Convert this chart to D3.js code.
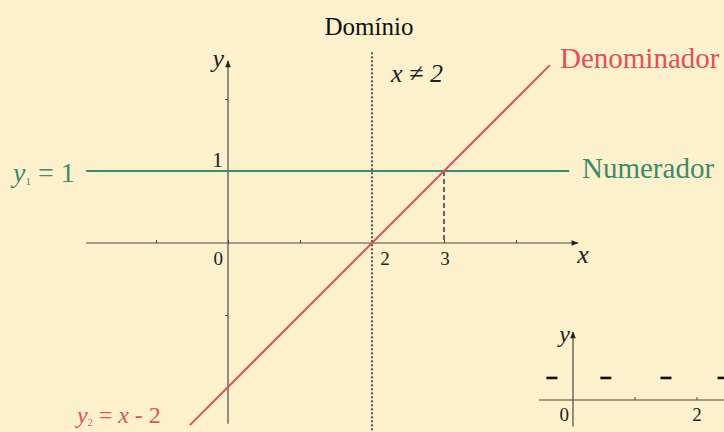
<!DOCTYPE html>
<html>
<head>
<meta charset="utf-8">
<script src="https://cdn.jsdelivr.net/npm/d3@7"></script>
<style>
  body { margin: 0; background: #fdf0cc; }
  svg, text { font-family: "Liberation Serif", "DejaVu Serif", serif; }
  svg { display: block; }
</style>
</head>
<body>
<svg id="chart" width="724" height="432"></svg>
<script>
// Main graph data
var xTicks = [-1, 0, 1, 2, 3, 4];
var yTicks = [-1, 2];
var xLabels = [
  { v: 0, t: "0" },
  { v: 2, t: "2" },
  { v: 3, t: "3" }
];
var numeratorX = [-1.97, 4.74];      // y1 = 1
var denominatorX = [-0.53, 4.47];    // y2 = x - 2
var domainX = 2;                     // x != 2
var crossX = 3;                      // y1 = y2

// Inset (sign chart) data
var insetTicks = [1, 2];
var insetLabels = [{ v: 0, t: "0" }, { v: 2, t: "2" }];
var signX = [-0.34, 0.53, 1.5, 2.42];
var signY = 0.35;

var green = "#3f8a6b", red = "#e0505c", axisCol = "#4a4a44";

function demo() {
  var svg = d3.select("#chart");

  /*** Scales ***/
  var x = d3.scaleLinear().domain([0, 1]).range([228, 300]);
  var y = d3.scaleLinear().domain([0, 1]).range([243, 171]);

  var defs = svg.append("defs");
  defs.append("marker")
    .attr("id", "arrow")
    .attr("viewBox", "0 0 10 10")
    .attr("refX", 9).attr("refY", 5)
    .attr("markerWidth", 9).attr("markerHeight", 7)
    .attr("markerUnits", "userSpaceOnUse")
    .attr("orient", "auto")
    .append("path")
    .attr("d", "M0,1 L10,5 L0,9 Z")
    .attr("fill", "#222");

  /*** Axes ***/
  var xAxis = d3.axisBottom(x).tickValues(xTicks).tickSize(-3).tickFormat("");
  var gx = svg.append("g").attr("transform", "translate(0," + y(0) + ")").call(xAxis);
  gx.select(".domain").remove();
  gx.selectAll("line").attr("stroke", axisCol);

  var yAxis = d3.axisLeft(y).tickValues(yTicks).tickSize(3).tickFormat("");
  var gy = svg.append("g").attr("transform", "translate(" + x(0) + ",0)").call(yAxis);
  gy.select(".domain").remove();
  gy.selectAll("line").attr("stroke", axisCol);

  svg.append("line")
    .attr("x1", x(-1.97)).attr("x2", x(4.86))
    .attr("y1", y(0)).attr("y2", y(0))
    .attr("stroke", axisCol).attr("stroke-width", 1.2)
    .attr("marker-end", "url(#arrow)");

  svg.append("line")
    .attr("x1", x(0)).attr("x2", x(0))
    .attr("y1", y(-2.51)).attr("y2", y(2.53))
    .attr("stroke", axisCol).attr("stroke-width", 1.2)
    .attr("marker-end", "url(#arrow)");

  /*** Domain and crossing guides ***/
  svg.append("line")
    .attr("x1", x(domainX)).attr("x2", x(domainX))
    .attr("y1", y(2.65)).attr("y2", y(-2.7))
    .attr("stroke", "#555").attr("stroke-width", 2)
    .attr("stroke-dasharray", "2,2");

  svg.append("line")
    .attr("x1", x(crossX)).attr("x2", x(crossX))
    .attr("y1", y(1)).attr("y2", y(0))
    .attr("stroke", "#444").attr("stroke-width", 1.6)
    .attr("stroke-dasharray", "5,3");

  /*** Functions ***/
  var line = d3.line().x(d => x(d[0])).y(d => y(d[1]));

  svg.append("path")
    .datum(numeratorX.map(v => [v, 1]))
    .attr("d", line)
    .attr("stroke", green).attr("stroke-width", 2).attr("fill", "none");

  svg.append("path")
    .datum(denominatorX.map(v => [v, v - 2]))
    .attr("d", line)
    .attr("stroke", red).attr("stroke-width", 2).attr("fill", "none");

  /*** Tick labels ***/
  svg.selectAll(".xl")
    .data(xLabels)
    .join("text")
    .attr("x", d => d.v === 0 ? x(d.v) - 5 : x(d.v) + (d.v === 2 ? 13 : 1))
    .attr("y", y(0) + 22)
    .attr("text-anchor", d => d.v === 0 ? "end" : "middle")
    .attr("font-size", 19)
    .attr("fill", "#222")
    .text(d => d.t);

  svg.append("text").attr("x", x(0) - 5).attr("y", y(1) - 4)
    .attr("text-anchor", "end").attr("font-size", 22).attr("fill", "#222").text("1");

  svg.append("text").attr("x", x(4.93)).attr("y", y(0) + 20)
    .attr("text-anchor", "middle").attr("font-size", 26).attr("font-style", "italic")
    .attr("fill", "#222").text("x");
  svg.append("text").attr("x", x(0) - 4).attr("y", y(2.53) + 6)
    .attr("text-anchor", "end").attr("font-size", 26).attr("font-style", "italic")
    .attr("fill", "#222").text("y");

  /*** Annotations ***/
  svg.append("text").attr("x", 369).attr("y", 35)
    .attr("text-anchor", "middle").attr("font-size", 25).attr("fill", "#111")
    .text("Domínio");
  svg.append("text").attr("x", 417).attr("y", 82)
    .attr("text-anchor", "middle").attr("font-size", 26).attr("font-style", "italic")
    .attr("fill", "#222").text("x ≠ 2");

  svg.append("text").attr("x", 560).attr("y", 68)
    .attr("font-size", 29).attr("fill", red).text("Denominador");
  svg.append("text").attr("x", 582).attr("y", 178)
    .attr("font-size", 29).attr("fill", green).text("Numerador");

  var t1 = svg.append("text").attr("x", 13).attr("y", 182)
    .attr("font-size", 28).attr("fill", green);
  t1.append("tspan").attr("font-style", "italic").text("y");
  t1.append("tspan").attr("font-size", 11).attr("dy", 3).text("1");
  t1.append("tspan").attr("dy", -3).text(" = 1");

  var t2 = svg.append("text").attr("x", 77).attr("y", 423)
    .attr("font-size", 24).attr("fill", red);
  t2.append("tspan").attr("font-style", "italic").text("y");
  t2.append("tspan").attr("font-size", 10).attr("dy", 3).text("2");
  t2.append("tspan").attr("dy", -3).text(" = ");
  t2.append("tspan").attr("font-style", "italic").text("x");
  t2.append("tspan").text(" - 2");

  /*** Inset sign chart ***/
  var ix = d3.scaleLinear().domain([0, 1]).range([573, 635]);
  var iy = d3.scaleLinear().domain([0, 1]).range([400, 337]);

  svg.append("line")
    .attr("x1", ix(-0.55)).attr("x2", 724)
    .attr("y1", iy(0)).attr("y2", iy(0))
    .attr("stroke", axisCol).attr("stroke-width", 1.2);
  svg.append("line")
    .attr("x1", ix(0)).attr("x2", ix(0))
    .attr("y1", iy(-0.42)).attr("y2", iy(1.08))
    .attr("stroke", axisCol).attr("stroke-width", 1.2)
    .attr("marker-end", "url(#arrow)");

  svg.selectAll(".it")
    .data(insetTicks)
    .join("line")
    .attr("x1", d => ix(d)).attr("x2", d => ix(d))
    .attr("y1", iy(0)).attr("y2", iy(0) - 3)
    .attr("stroke", axisCol);

  svg.selectAll(".il")
    .data(insetLabels)
    .join("text")
    .attr("x", d => d.v === 0 ? ix(0) - 4 : ix(d.v))
    .attr("y", iy(0) + 21)
    .attr("text-anchor", d => d.v === 0 ? "end" : "middle")
    .attr("font-size", 19).attr("fill", "#222")
    .text(d => d.t);

  svg.append("text").attr("x", ix(0) - 3).attr("y", iy(1.08) + 10)
    .attr("text-anchor", "end").attr("font-size", 24).attr("font-style", "italic")
    .attr("fill", "#222").text("y");

  svg.selectAll(".sign")
    .data(signX)
    .join("line")
    .attr("x1", d => ix(d) - 5.5).attr("x2", d => ix(d) + 5.5)
    .attr("y1", iy(signY)).attr("y2", iy(signY))
    .attr("stroke", "#111").attr("stroke-width", 2.6);
}
demo();
</script>
</body>
</html>
